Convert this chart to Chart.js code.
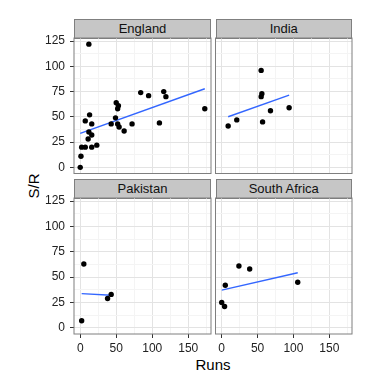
<!DOCTYPE html>
<html>
<head>
<meta charset="utf-8">
<script src="https://cdn.jsdelivr.net/npm/chart.js@4.4.0/dist/chart.umd.min.js"></script>
<style>
  html, body { margin: 0; padding: 0; background: #fff; }
  #wrap { position: relative; width: 384px; height: 384px; overflow: hidden; font-family: "Liberation Sans", Arial, sans-serif; }
  #wrap canvas { position: absolute; left: 0; top: 0; }
  .strip { position: absolute; box-sizing: border-box; background: #c6c6c6; border: 1px solid #7f7f7f;
           text-align: center; font-size: 13px; line-height: 18px; color: #111; }
  .axis-title { position: absolute; font-size: 15px; color: #000; white-space: nowrap; }
</style>
</head>
<body>
<div id="wrap">
  <div class="axis-title" style="left:33px;top:186px;transform:translate(-50%,-50%) rotate(-90deg);">S/R</div>
  <div class="axis-title" style="left:213px;top:364px;transform:translate(-50%,-50%);">Runs</div>
</div>
<script>
(() => {
  'use strict';

  // facet order as in the plot
  const countries = ['England', 'India', 'Pakistan', 'South Africa'];

  const englandRuns = [12, 0, 1, 2, 7, 16, 23, 12, 11, 16, 7, 13, 16, 43, 49, 50, 53, 52, 52, 54, 61, 72, 84, 95, 110, 116, 119, 173];
  const englandSR   = [122, 0, 11, 20, 20, 20, 22, 35, 28, 32, 46, 52, 43, 43, 49, 64, 61, 58, 43, 40, 36, 43, 74, 71, 44, 75, 70, 58];

  const indiaRuns = [55, 56, 55, 68, 94, 21, 9, 57];
  const indiaSR   = [96, 73, 70, 56, 59, 47, 41, 45];

  const pakistanRuns = [5, 2, 38, 43];
  const pakistanSR   = [63, 7, 29, 33];

  const southAfricaRuns = [5, 0, 4, 24, 39, 106];
  const southAfricaSR   = [42, 25, 21, 61, 58, 45];

  const xTicks = [0, 50, 100, 150];
  const yTicks = [0, 25, 50, 75, 100, 125];

  const runsByCountry = [englandRuns, indiaRuns, pakistanRuns, southAfricaRuns];
  const srByCountry = [englandSR, indiaSR, pakistanSR, southAfricaSR];

  // panel geometry (px)
  const COLS = [[74, 211], [215.5, 352]];
  const ROWS = [[38, 173.5], [198, 334]];
  const STRIP_H = 20;
  const X_AXIS_H = 20;

  // shared scale limits: data range + 5% each side (ggplot default)
  const expand = (vals) => {
    const lo = Math.min(...vals), hi = Math.max(...vals);
    const pad = (hi - lo) * 0.05;
    return [lo - pad, hi + pad];
  };
  const [xMin, xMax] = expand(runsByCountry.flat());
  const [yMin, yMax] = expand(srByCountry.flat());

  // major + minor (midpoint) grid values inside the range
  const withMinor = (major, lo, hi) => {
    const step = major[1] - major[0];
    const out = [];
    for (let v = major[0] - step; v <= major[major.length - 1] + step; v += step / 2) {
      if (v >= lo && v <= hi) out.push(v);
    }
    return out;
  };
  const xGrid = withMinor(xTicks, xMin, xMax);
  const yGrid = withMinor(yTicks, yMin, yMax);

  const lmLine = (xs, ys) => {
    const n = xs.length;
    const mx = xs.reduce((a, b) => a + b, 0) / n;
    const my = ys.reduce((a, b) => a + b, 0) / n;
    let sxy = 0, sxx = 0;
    xs.forEach((x, i) => { sxy += (x - mx) * (ys[i] - my); sxx += (x - mx) ** 2; });
    const slope = sxy / sxx;
    const x0 = Math.min(...xs), x1 = Math.max(...xs);
    return [{ x: x0, y: my + slope * (x0 - mx) }, { x: x1, y: my + slope * (x1 - mx) }];
  };

  const panelBorder = {
    id: 'panelBorder',
    afterDraw(chart) {
      const { ctx, chartArea: a } = chart;
      ctx.save();
      ctx.strokeStyle = '#7f7f7f';
      ctx.lineWidth = 1;
      ctx.strokeRect(a.left, a.top, a.right - a.left, a.bottom - a.top);
      ctx.restore();
    },
  };

  const wrap = document.getElementById('wrap');
  const FONT = { family: '"Liberation Sans", Arial, sans-serif', size: 12 };

  countries.forEach((name, i) => {
    const col = i % 2, row = Math.floor(i / 2);
    const [left, right] = COLS[col];
    const [top, bottom] = ROWS[row];
    const showY = col === 0, showX = row === 1;

    const strip = document.createElement('div');
    strip.className = 'strip';
    strip.textContent = name;
    Object.assign(strip.style, {
      left: `${left}px`, top: `${top - STRIP_H + 1}px`,
      width: `${right - left}px`, height: `${STRIP_H}px`,
    });
    wrap.appendChild(strip);

    const canvas = document.createElement('canvas');
    canvas.width = 384; canvas.height = 384;
    canvas.style.width = '384px'; canvas.style.height = '384px';
    wrap.appendChild(canvas);

    const xs = runsByCountry[i], ys = srByCountry[i];
    const isMajorX = (v) => xTicks.includes(v);
    const isMajorY = (v) => yTicks.includes(v);

    new Chart(canvas, {
      type: 'scatter',
      data: {
        datasets: [
          {
            data: xs.map((x, k) => ({ x, y: ys[k] })),
            backgroundColor: '#000',
            borderWidth: 0,
            pointRadius: 2.7,
          },
          {
            type: 'line',
            data: lmLine(xs, ys),
            borderColor: '#3366ff',
            borderWidth: 1.4,
            pointRadius: 0,
            fill: false,
          },
        ],
      },
      options: {
        responsive: false,
        animation: false,
        events: [],
        layout: {
          padding: {
            left: showY ? 0 : left,
            top,
            right: 384 - right,
            bottom: 384 - bottom - (showX ? X_AXIS_H : 0),
          },
        },
        plugins: { legend: { display: false }, tooltip: { enabled: false } },
        scales: {
          x: {
            type: 'linear',
            min: xMin, max: xMax,
            afterBuildTicks: (s) => { s.ticks = xGrid.map((v) => ({ value: v })); },
            afterFit: (s) => { s.height = showX ? X_AXIS_H : 0; },
            border: { display: false },
            grid: {
              color: (c) => (isMajorX(c.tick.value) ? '#e3e3e3' : '#f4f4f4'),
              tickColor: (c) => (isMajorX(c.tick.value) ? '#333' : 'rgba(0,0,0,0)'),
              drawTicks: showX,
              tickLength: 4,
            },
            ticks: {
              display: showX,
              autoSkip: false,
              maxRotation: 0,
              padding: 3,
              color: '#222',
              font: FONT,
              callback: (v) => (isMajorX(v) ? String(v) : ''),
            },
          },
          y: {
            type: 'linear',
            min: yMin, max: yMax,
            afterBuildTicks: (s) => { s.ticks = yGrid.map((v) => ({ value: v })); },
            afterFit: (s) => { s.width = showY ? left : 0; },
            border: { display: false },
            grid: {
              color: (c) => (isMajorY(c.tick.value) ? '#e3e3e3' : '#f4f4f4'),
              tickColor: (c) => (isMajorY(c.tick.value) ? '#333' : 'rgba(0,0,0,0)'),
              drawTicks: showY,
              tickLength: 4,
            },
            ticks: {
              display: showY,
              autoSkip: false,
              padding: 5,
              color: '#222',
              font: FONT,
              callback: (v) => (isMajorY(v) ? String(v) : ''),
            },
          },
        },
      },
      plugins: [panelBorder],
    });
  });
})();
</script>
</body>
</html>
